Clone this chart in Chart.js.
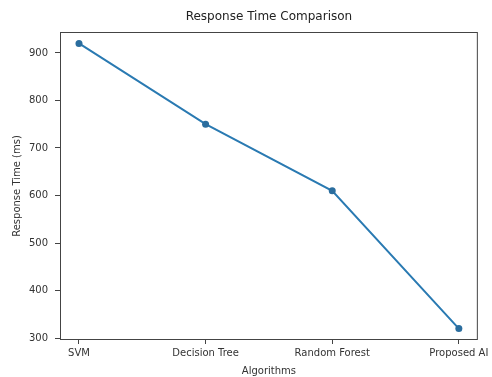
<!DOCTYPE html>
<html>
<head>
<meta charset="utf-8">
<script src="https://cdn.jsdelivr.net/npm/chart.js@4/dist/chart.umd.min.js"></script>
<style>
  html, body { margin: 0; padding: 0; background: #fff; }
  canvas { display: block; }
</style>
</head>
<body>
<canvas id="c" width="492" height="377"></canvas>
<script>
// Response time per algorithm (ms)
const algorithms = ['SVM', 'Decision Tree', 'Random Forest', 'Proposed AI'];
const responseTimes = [920, 750, 610, 320];
const yTicks = [300, 400, 500, 600, 700, 800, 900];

const FONT = 'DejaVu Sans';
const TEXT = '#333';

// matplotlib-style frame round the plot area
const frame = {
  id: 'frame',
  afterDraw(chart) {
    const a = chart.chartArea, ctx = chart.ctx;
    ctx.save();
    ctx.strokeStyle = '#444';
    ctx.lineWidth = 1;
    ctx.strokeRect(a.left + 0.5, a.top + 0.5, a.right - a.left - 1, a.bottom - a.top - 1);
    ctx.restore();
  }
};

new Chart(document.getElementById('c'), {
  type: 'line',
  data: {
    datasets: [{
      label: 'Response Time',
      data: responseTimes.map((v, i) => ({ x: i, y: v })),
      borderColor: '#2a7ab2',
      backgroundColor: '#2a6d9e',
      borderWidth: 2,
      pointRadius: 3.5,
      pointHoverRadius: 3.5,
      pointBorderWidth: 0,
      tension: 0
    }]
  },
  options: {
    responsive: false,
    animation: false,
    layout: { padding: { left: 0, right: 13, top: 0, bottom: 0 } },
    plugins: {
      legend: { display: false },
      tooltip: { enabled: false },
      title: {
        display: true,
        text: 'Response Time Comparison',
        fullSize: false,
        color: '#222',
        font: { family: FONT, size: 12, weight: 'normal' },
        padding: { top: 10, bottom: 7.6 }
      }
    },
    scales: {
      x: {
        type: 'linear',
        min: -0.15,
        max: 3.15,
        afterBuildTicks: s => { s.ticks = algorithms.map((_, i) => ({ value: i })); },
        afterFit: s => { s.height = 37; },
        ticks: {
          callback: v => algorithms[v],
          color: TEXT,
          font: { family: FONT, size: 10 },
          maxRotation: 0,
          autoSkip: false,
          padding: 3
        },
        grid: { display: true, drawOnChartArea: false, tickLength: 4, color: '#444' },
        border: { display: false },
        title: {
          display: true,
          text: 'Algorithms',
          color: TEXT,
          font: { family: FONT, size: 10 },
          padding: { top: 0, bottom: 0 }
        }
      },
      y: {
        min: 296,
        max: 944,
        afterBuildTicks: s => { s.ticks = yTicks.map(v => ({ value: v })); },
        afterFit: s => { s.width = 60; },
        ticks: {
          color: TEXT,
          font: { family: FONT, size: 10 },
          padding: 7
        },
        grid: { display: true, drawOnChartArea: false, tickLength: 5, color: '#444' },
        border: { display: false },
        title: {
          display: true,
          text: 'Response Time (ms)',
          color: TEXT,
          font: { family: FONT, size: 10 },
          padding: { top: 11, bottom: 4 }
        }
      }
    }
  },
  plugins: [frame]
});
</script>
</body>
</html>
